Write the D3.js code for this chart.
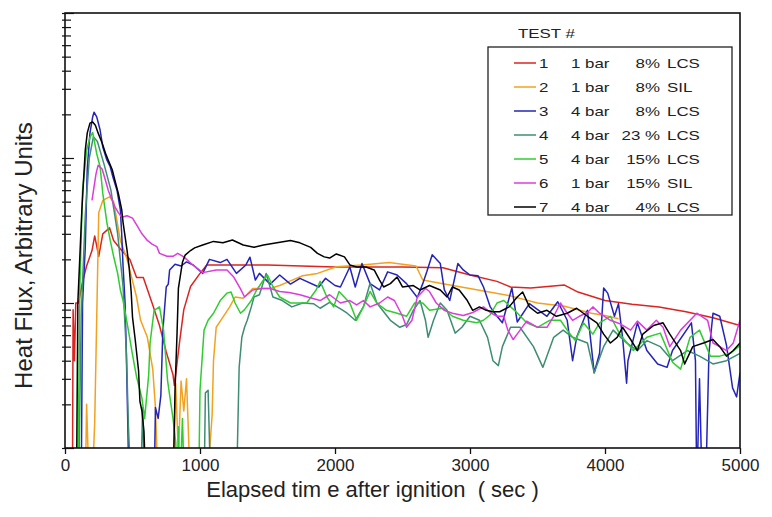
<!DOCTYPE html>
<html>
<head>
<meta charset="utf-8">
<script src="https://cdn.jsdelivr.net/npm/d3@7"></script>
<style>
  body { margin: 0; background: #fff; }
  text { font-family: "Liberation Sans", Arial, sans-serif; fill: #222; }
  .legend text { white-space: pre; }
</style>
</head>
<body>
<div id="chart"></div>
<script>
// test curves, [seconds, heat flux (arb. units)]; values below 1 drop off the bottom
const test1 = [[55,0.5],[60,9],[70,4],[80,10],[100,10],[130,14],[160,18],[200,23],[220,29],[250,21],[280,30],[330,33],[360,27],[420,23],[480,20],[530,15],[580,15],[650,9.7],[700,7],[750,4.6],[800,3.2],[810,2.7],[850,5.5],[880,9],[930,13],[1000,16],[1050,18.3],[1500,18.3],[2000,17.7],[2500,17.7],[2800,17.5],[3000,15.6],[3200,14.1],[3300,12.9],[3450,12.7],[3700,13.3],[3800,11.9],[4000,10.4],[4200,9.8],[4400,9.4],[4600,8.7],[4800,7.9],[5000,7]];
const test2 = [[150,0.5],[160,2],[180,0.5],[200,0.5],[220,1.5],[250,42],[280,51],[330,54],[360,50],[410,27],[460,20],[530,11],[560,7.6],[610,5.8],[650,3.5],[670,1.9],[690,0.5],[800,0.5],[820,2.8],[840,0.9],[860,2.9],[880,1.8],[900,3],[930,0.5],[1050,0.5],[1090,1.7],[1100,4],[1120,6.8],[1170,8],[1220,9.4],[1260,11],[1320,10.8],[1390,12.6],[1520,12.6],[1590,13.2],[1670,14.2],[1760,15.4],[1870,16],[2010,17.8],[2200,18.3],[2400,19],[2600,18],[2650,14.4],[2800,13.6],[3060,12.3],[3300,11.2],[3500,10],[3700,9.5],[3900,8.5],[4000,8.2],[4100,7.8]];
const test3 = [[120,0.5],[130,10],[150,24],[165,85],[185,149],[205,192],[215,207],[235,192],[260,156],[280,119],[310,97],[335,87],[355,74],[385,60],[410,44],[420,30],[430,18],[445,10],[455,4.2],[465,1.5],[475,0.5],[660,0.5],[670,1.9],[690,1.6],[710,2.3],[725,6.5],[750,12.9],[765,13.5],[775,16.9],[815,18.5],[860,18],[900,19.2],[950,18.3],[1020,16],[1070,20],[1150,19],[1200,20],[1270,16],[1340,18.3],[1370,20.7],[1410,14.4],[1440,16],[1520,13.5],[1590,15.6],[1670,13.5],[1740,14.8],[1880,12.9],[1930,14.8],[2000,13.2],[2040,12.9],[2110,17.7],[2150,12.9],[2200,18.7],[2260,13.6],[2330,12.3],[2390,16.4],[2460,15.6],[2530,13.6],[2610,10.9],[2650,13.6],[2680,16.4],[2720,21.5],[2780,18.7],[2810,12.3],[2850,10.4],[2910,18.7],[2950,16.9],[3000,15.6],[3060,15.4],[3100,12.9],[3150,9.4],[3200,8.1],[3240,7.3],[3310,12.7],[3350,7.4],[3440,9.9],[3570,8.1],[3650,10.2],[3720,7.6],[3760,4],[3790,5.8],[3870,8.9],[3920,3.3],[3960,4.5],[3990,12.7],[4020,11.7],[4070,8.1],[4100,9.9],[4130,5.8],[4160,2.8],[4170,4],[4240,7.3],[4310,4.7],[4390,3.8],[4460,3.6],[4500,4.7],[4640,7.3],[4670,4],[4680,0.5],[4700,3],[4720,0.5],[4745,0.5],[4770,4.5],[4800,8.5],[4850,8.1],[4900,5.1],[4945,2.6],[4975,2.25],[5000,3.3]];
const test4 = [[100,0.5],[120,8],[150,40],[180,100],[210,140],[240,130],[290,90],[340,60],[390,30],[430,13],[455,4.5],[470,1.4],[490,0.5],[560,0.5],[575,1.9],[590,0.5],[1030,0.5],[1040,2.4],[1060,2.5],[1080,0.5],[1270,0.5],[1290,3.6],[1310,5.8],[1330,6.8],[1350,7.6],[1380,9.4],[1400,11],[1440,11.4],[1490,16],[1540,11],[1610,10.4],[1680,9.4],[1760,10],[1840,9.9],[1890,9.2],[1960,10.1],[2050,9],[2090,8.5],[2150,7.6],[2210,9.4],[2260,13.7],[2310,10],[2410,7.6],[2480,6.8],[2530,7.1],[2580,8.9],[2630,10.4],[2670,7.6],[2690,5.8],[2730,7.6],[2780,10],[2830,8.9],[2890,6.2],[2940,6.8],[3000,8.1],[3070,7.6],[3130,5.8],[3170,4],[3210,3.7],[3240,5],[3300,6.8],[3370,6.8],[3470,5],[3540,3.6],[3620,5.8],[3690,6.5],[3760,5.8],[3870,5.3],[3920,3.3],[3990,5],[4060,6.5],[4160,5.3],[4240,4.7],[4310,5.5],[4410,5],[4500,4],[4610,4.7],[4700,4.3],[4800,3.8],[4900,4],[5000,4.5]];
const test5 = [[95,0.5],[110,12.9],[130,60],[160,113],[185,139],[205,150],[235,107],[260,87],[280,57],[310,36],[335,27],[360,21],[390,16],[410,12.3],[430,10.4],[460,7.3],[500,4.4],[530,3.1],[570,2.2],[590,1.6],[620,3.2],[630,5.3],[660,8.9],[700,9.4],[730,6.5],[760,2.9],[800,1.6],[820,1.1],[835,0.5],[840,1.4],[850,0.5],[870,1.6],[885,0.5],[990,0.5],[1000,2.5],[1030,6.5],[1060,7.6],[1100,8.5],[1150,10.4],[1200,11.7],[1230,11.9],[1260,10],[1300,8.5],[1330,9],[1380,10.4],[1420,12.3],[1470,14.4],[1500,15.6],[1540,13],[1590,11],[1670,10],[1740,10],[1790,10],[1860,12.3],[1890,14.1],[1940,11],[1990,9.4],[2030,12],[2110,10],[2160,7.6],[2210,9.4],[2260,12],[2310,10],[2380,8.9],[2460,8.5],[2530,8.1],[2590,10],[2650,10],[2700,8.9],[2800,9.2],[2870,8.1],[2950,7.6],[3050,7.3],[3100,7.6],[3150,8.3],[3200,10],[3250,10.4],[3330,8.9],[3420,7.3],[3500,6.8],[3590,7.6],[3670,7.6],[3720,6.5],[3780,5.5],[3840,7.3],[3910,6.1],[3960,7.3],[4040,8.1],[4110,6.1],[4210,4.7],[4310,5.8],[4410,6.2],[4500,3.9],[4560,3.5],[4630,5.8],[4700,6.5],[4780,4.3],[4850,4.3],[4930,4.5],[5000,5.1]];
const test6 = [[200,51],[230,78],[245,89],[275,84],[300,70],[320,60],[350,51],[370,46],[395,42],[420,39],[460,40],[500,38.5],[535,34],[570,30],[610,27],[645,25.5],[680,24.5],[700,22],[755,21],[800,21],[835,22],[880,20.8],[940,18.5],[1020,16.2],[1120,16.9],[1200,16.9],[1250,15.1],[1300,12.5],[1330,11],[1390,12.3],[1460,12.6],[1520,12.6],[1590,12],[1660,11.8],[1740,11.4],[1810,10.9],[1890,10.4],[1960,11.4],[2040,10],[2110,10.4],[2160,9.7],[2210,10.4],[2260,9.4],[2330,10],[2390,11],[2440,10.4],[2500,8.1],[2530,6.8],[2570,7.6],[2610,11],[2670,12.6],[2700,12],[2750,10],[2810,8.9],[2870,8.5],[2950,8.2],[3020,8.6],[3100,9.4],[3150,8.6],[3200,8.1],[3250,8.1],[3280,6.5],[3320,5.6],[3360,6.3],[3420,7.5],[3500,6.8],[3570,6.8],[3620,8.1],[3670,10],[3720,8.5],[3760,7.6],[3810,8.1],[3870,8.6],[3910,9.4],[3960,8.5],[4040,7.6],[4110,7.2],[4190,6.5],[4240,7.5],[4310,6.5],[4380,7.6],[4430,6.8],[4480,5],[4560,6.5],[4630,7.6],[4680,8.5],[4760,7.6],[4800,5.3],[4850,5],[4900,4.7],[4950,5.3],[5000,7.6]];
const test7 = [[85,0.5],[95,10],[125,44],[150,113],[165,149],[185,174],[205,177],[225,168],[245,149],[275,127],[300,108],[320,97],[350,83],[370,70],[395,57],[420,44],[430,36],[460,23],[475,17.7],[490,12],[500,8],[520,5.6],[545,3.4],[555,2.1],[570,1.8],[585,1.3],[600,0.5],[800,0.5],[815,2.5],[830,6.2],[840,12.6],[870,19.1],[890,21.4],[930,23],[960,24],[1020,25.1],[1100,26.6],[1170,26],[1240,27.2],[1320,25.1],[1400,24.2],[1470,25.1],[1570,26],[1670,27],[1740,26],[1820,24.2],[1870,22],[1920,20.8],[1960,20.4],[2010,21.8],[2070,20.8],[2110,18.3],[2160,17.7],[2230,17.7],[2290,16.9],[2330,14.4],[2360,12.9],[2410,13.6],[2460,15.1],[2500,12.9],[2580,13.2],[2630,12.3],[2700,13.2],[2780,12.3],[2830,11],[2870,12.9],[2920,12.3],[2980,10.4],[3020,8.9],[3070,9.4],[3120,8.9],[3170,8.7],[3220,8.7],[3290,9.4],[3350,11],[3390,11.9],[3440,9.4],[3500,8.5],[3570,8.9],[3640,8.1],[3720,8.5],[3790,9.2],[3870,8.1],[3940,7.3],[3990,6.1],[4040,5.3],[4090,5.8],[4130,6.8],[4190,5.6],[4240,4.7],[4280,6.1],[4360,7],[4430,7.3],[4480,6.1],[4560,4.7],[4590,3.8],[4650,5],[4730,5.3],[4800,5.6],[4850,5],[4900,4.3],[4950,4.7],[5000,5.3]];

const testIds   = ["1", "2", "3", "4", "5", "6", "7"];
const pressures = ["1 bar", "1 bar", "4 bar", "4 bar", "4 bar", "1 bar", "4 bar"];
const percents  = ["8%", "8%", "8%", "23 %", "15%", "15%", "4%"];
const materials = ["LCS", "SIL", "LCS", "LCS", "LCS", "SIL", "LCS"];
const colors    = ["#dc2420", "#f2a21e", "#2424b8", "#3f8c74", "#30cc30", "#dc3cdc", "#000000"];
const xTicks    = [0, 1000, 2000, 3000, 4000, 5000];

const allTests = [test1, test2, test3, test4, test5, test6, test7];

const svgWidth = 772;
const svgHeight = 517;

const margin = {
  top: 13,
  right: 32,
  bottom: 69,
  left: 65
};

const width = svgWidth - margin.left - margin.right;
const height = svgHeight - margin.top - margin.bottom;

const svg = d3
  .select("#chart")
  .append("svg")
  .attr("width", svgWidth)
  .attr("height", svgHeight);

const chartGroup = svg.append("g")
  .attr("transform", `translate(${margin.left}, ${margin.top})`);

const xLinearScale = d3.scaleLinear().domain([0, 5000]).range([0, width]);
const yLogScale = d3.scaleLog().domain([1, 1000]).range([height, 0]);

svg.append("defs").append("clipPath")
  .attr("id", "plotClip")
  .append("rect")
  .attr("width", width)
  .attr("height", height);

// curves
const line = d3.line()
  .x(d => xLinearScale(d[0]))
  .y(d => yLogScale(d[1]));

const curves = chartGroup.append("g").attr("clip-path", "url(#plotClip)");

curves.selectAll("path")
  .data(allTests)
  .enter()
  .append("path")
  .attr("d", line)
  .attr("fill", "none")
  .attr("stroke", (d, i) => colors[i])
  .attr("stroke-width", 1.5)
  .attr("stroke-linejoin", "round");

// frame
chartGroup.append("rect")
  .attr("width", width)
  .attr("height", height)
  .attr("fill", "none")
  .attr("stroke", "#111")
  .attr("stroke-width", 1.6);

// x axis, ticks point out
const bottomAxis = d3.axisBottom(xLinearScale)
  .tickValues(xTicks)
  .tickSize(6)
  .tickPadding(5)
  .tickFormat(d3.format("d"));

const xAxis = chartGroup.append("g")
  .attr("transform", `translate(0, ${height})`)
  .call(bottomAxis);

xAxis.select(".domain").remove();
xAxis.selectAll("line").attr("stroke", "#111").attr("stroke-width", 1.3);
xAxis.selectAll("text")
  .style("font-family", "Liberation Sans, Arial, sans-serif")
  .style("font-size", "17px")
  .attr("fill", "#222");

// y axis: log ticks mostly inside, no labels
const majors = [1, 10, 100, 1000];
const minors = [];
[1, 10, 100].forEach(dec => d3.range(2, 10).forEach(k => minors.push(dec * k)));

const majorAxis = d3.axisLeft(yLogScale).tickValues(majors).tickSize(-9).tickFormat("");
const minorAxis = d3.axisLeft(yLogScale).tickValues(minors).tickSize(-6).tickFormat("");

[majorAxis, minorAxis].forEach(ax => {
  const g = chartGroup.append("g").call(ax);
  g.select(".domain").remove();
  g.selectAll("line")
    .attr("x1", -3)
    .attr("stroke", "#111")
    .attr("stroke-width", 1.2);
});

// axis titles
chartGroup.append("text")
  .attr("x", width / 2 - 30)
  .attr("y", height + 49)
  .attr("text-anchor", "middle")
  .style("font-size", "22px")
  .style("white-space", "pre")
  .text("Elapsed tim e after ignition  ( sec )");

chartGroup.append("text")
  .attr("transform", "rotate(-90)")
  .attr("x", -(height / 2) - 25)
  .attr("y", -33)
  .attr("text-anchor", "middle")
  .style("font-size", "24px")
  .text("Heat Flux, Arbitrary Units");

// legend (the source's legend lettering is wide, so stretch it)
const stretch = 1.3;
const legend = chartGroup.append("g")
  .attr("class", "legend")
  .attr("transform", `translate(${488 - margin.left}, ${47 - margin.top})`);

legend.append("text")
  .attr("transform", `translate(30, -9) scale(${stretch}, 1)`)
  .style("font-size", "13px")
  .text("TEST #");

legend.append("rect")
  .attr("width", 244)
  .attr("height", 168)
  .attr("fill", "#fff")
  .attr("stroke", "#222")
  .attr("stroke-width", 1.3);

const rows = legend.selectAll("g.row")
  .data(testIds)
  .enter()
  .append("g")
  .attr("class", "row")
  .attr("transform", (d, i) => `translate(0, ${16 + i * 24})`);

rows.append("line")
  .attr("x1", 26)
  .attr("x2", 48)
  .attr("stroke", (d, i) => colors[i])
  .attr("stroke-width", 1.5);

const cell = (x, anchor, fn) => rows.append("text")
  .attr("transform", `translate(${x}, 0) scale(${stretch}, 1)`)
  .attr("dy", "0.35em")
  .attr("text-anchor", anchor)
  .style("font-size", "13px")
  .text(fn);

cell(51, "start", d => d);
cell(83, "start", (d, i) => pressures[i]);
cell(172, "end", (d, i) => percents[i]);
cell(179, "start", (d, i) => materials[i]);
</script>
</body>
</html>
